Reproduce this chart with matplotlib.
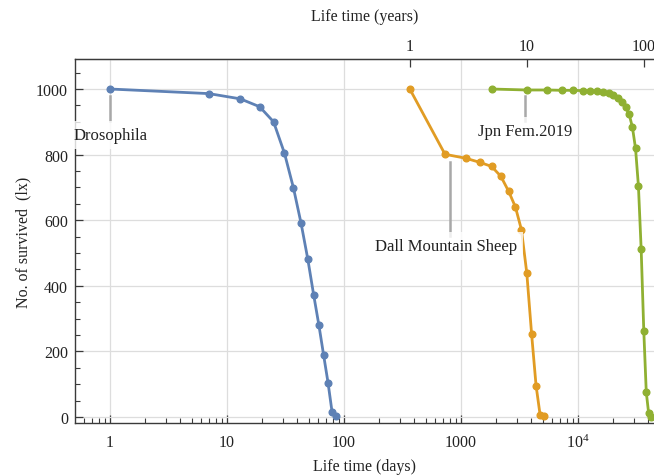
import matplotlib
matplotlib.use("Agg")
import matplotlib.pyplot as plt
from matplotlib.ticker import FixedLocator, FuncFormatter, NullLocator, MultipleLocator, LogLocator
import numpy as np

# ---- data ----
dros_days = [1, 7, 13, 19, 25, 31, 37, 43, 49, 55, 61, 67, 73, 79, 85]
dros_lx = [1000, 986, 970, 946, 900, 804, 698, 590, 482, 373, 280, 188, 105, 16, 3]

sheep_years = [1, 2, 3, 4, 5, 6, 7, 8, 9, 10, 11, 12, 13, 14]
sheep_lx = [1000, 801, 789, 776, 764, 734, 688, 640, 571, 439, 252, 96, 6, 3]

jpn_years = [5, 10, 15, 20, 25, 30, 35, 40, 45, 50, 55, 60, 65, 70, 75, 80,
             85, 90, 95, 100, 105, 110, 115]
jpn_lx = [1000, 997, 997, 996, 996, 995, 994, 993, 991, 987, 981, 973, 960,
          944, 923, 883, 819, 704, 511, 263, 76, 12, 1]

DAYS_PER_YEAR = 365
x_major = [1, 10, 100, 1000, 10000]
x_major_labels = ["1", "10", "100", "1000", "$10^4$"]
top_major = [1, 10, 100]
top_major_labels = ["1", "10", "100"]
y_major = [0, 200, 400, 600, 800, 1000]

labels = ["Drosophila", "Dall Mountain Sheep", "Jpn Fem.2019"]
colors = ["#5E81B5", "#E19C24", "#8FB032"]

sheep_days = [y * DAYS_PER_YEAR for y in sheep_years]
jpn_days = [y * DAYS_PER_YEAR for y in jpn_years]

plt.rcParams['font.family'] = ['Liberation Serif', 'DejaVu Serif']
plt.rcParams['mathtext.fontset'] = 'custom'
plt.rcParams['mathtext.rm'] = 'Liberation Serif'
plt.rcParams['mathtext.it'] = 'Liberation Serif'

fig = plt.figure(figsize=(6.54, 4.77), dpi=100)
ax = fig.add_axes([75 / 654, 1 - 424 / 477, 1 - 75 / 654, (424 - 60) / 477])

ax.set_xscale("log")
ax.set_xlim(0.502, 44630)
ax.set_ylim(-18.3, 1091.5)

ax.grid(True, which="major", color="#dddddd", linewidth=0.9, zorder=0)

series = [(dros_days, dros_lx), (sheep_days, sheep_lx), (jpn_days, jpn_lx)]
for (xs, ys), c in zip(series, colors):
    ax.plot(xs, ys, color=c, lw=2.0, marker="o", ms=4.8, zorder=3, clip_on=True)

# callout labels
lead_col = "#a8a8a8"
txt_kw = dict(fontsize=12, ha="center", va="center", color="#222222", zorder=5,
              bbox=dict(boxstyle="square,pad=0.35", fc="white", ec="none", alpha=0.8))

# Drosophila
ax.plot([dros_days[0], dros_days[0]], [978, 902], color=lead_col, lw=1.8, zorder=4)
ax.text(dros_days[0], 860, labels[0], **txt_kw)
# Dall Mountain Sheep
ax.plot([805, 805], [777, 552], color=lead_col, lw=1.8, zorder=4)
ax.text(745, 522, labels[1], **txt_kw)
# Jpn Fem.2019
ax.plot([3524, 3524], [978, 902], color=lead_col, lw=1.8, zorder=4)
ax.text(3524, 871, labels[2], **txt_kw)

# ticks
spine_col = "#3a3a3a"
for s in ["left", "bottom", "top"]:
    ax.spines[s].set_color(spine_col)
    ax.spines[s].set_linewidth(1.0)
ax.spines["right"].set_visible(False)

ax.xaxis.set_major_locator(FixedLocator(x_major))
ax.xaxis.set_major_formatter(FuncFormatter(lambda v, p: dict(zip(x_major, x_major_labels)).get(int(round(v)), "")))
ax.xaxis.set_minor_locator(LogLocator(base=10, subs=np.arange(2, 10)))
ax.xaxis.set_minor_formatter(FuncFormatter(lambda v, p: ""))
ax.yaxis.set_major_locator(FixedLocator(y_major))
ax.yaxis.set_minor_locator(MultipleLocator(50))

ax.tick_params(axis="both", which="major", direction="in", length=6, width=0.9,
               color=spine_col, labelsize=11.5, labelcolor="#222222")
ax.tick_params(axis="x", which="major", pad=8)
ax.tick_params(axis="y", which="major", pad=5)
ax.tick_params(axis="both", which="minor", direction="in", length=3.5, width=0.8, color=spine_col)
ax.tick_params(top=False, right=False, which="both")

secax = ax.secondary_xaxis("top", functions=(lambda d: d / DAYS_PER_YEAR, lambda y: y * DAYS_PER_YEAR))
secax.set_xscale("log")
secax.xaxis.set_major_locator(FixedLocator(top_major))
secax.xaxis.set_major_formatter(FuncFormatter(lambda v, p: dict(zip(top_major, top_major_labels)).get(int(round(v)), "")))
secax.xaxis.set_minor_locator(NullLocator())
secax.tick_params(axis="x", which="major", direction="in", length=6, width=0.9,
                  color=spine_col, labelsize=11.5, labelcolor="#222222", pad=3.5)
secax.spines["top"].set_color(spine_col)
secax.set_xlabel("Life time (years)", fontsize=11.5, color="#222222", labelpad=13)

ax.set_xlabel("Life time (days)", fontsize=11.5, color="#222222", labelpad=5)
ax.set_ylabel("No. of survived  (lx)", fontsize=11.5, color="#222222", labelpad=3)

fig.savefig("out.png", dpi=100)
